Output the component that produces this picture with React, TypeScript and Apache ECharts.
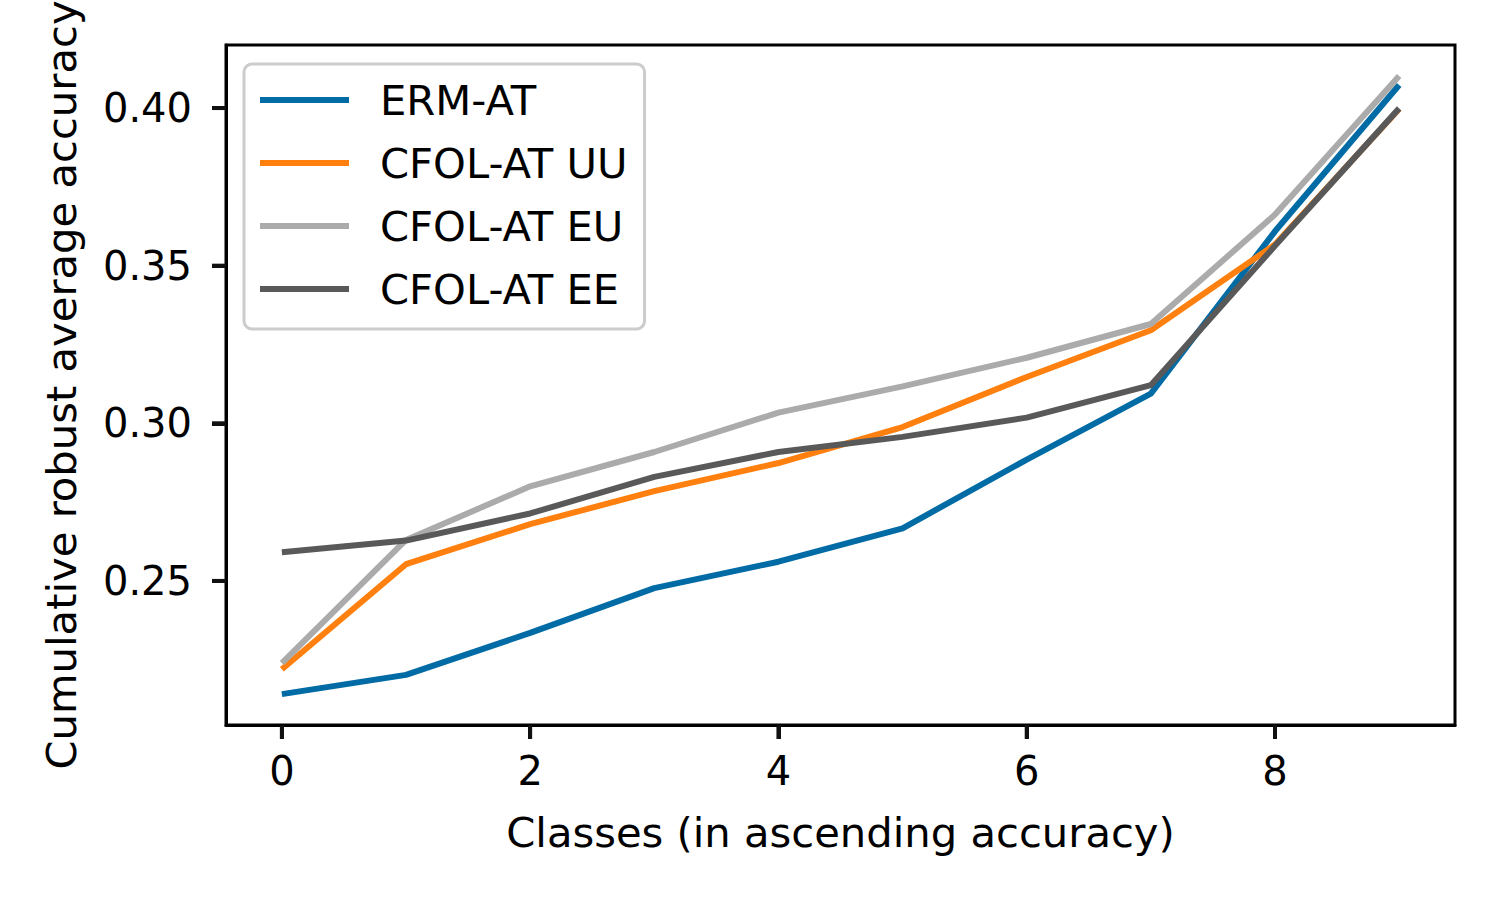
import React, { useEffect, useRef } from "react";
import * as echarts from "echarts";

const classes = [0, 1, 2, 3, 4, 5, 6, 7, 8, 9];
const ermAT = [0.2141, 0.2202, 0.2335, 0.2477, 0.2561, 0.2667, 0.2885, 0.3094, 0.3609, 0.4073];
const cfolUU = [0.2220, 0.2553, 0.2680, 0.2785, 0.2874, 0.2988, 0.3147, 0.3295, 0.3567, 0.3997];
const cfolEU = [0.2239, 0.2630, 0.2800, 0.2909, 0.3034, 0.3117, 0.3208, 0.3315, 0.3662, 0.4102];
const cfolEE = [0.2591, 0.2628, 0.2714, 0.2830, 0.2909, 0.2957, 0.3018, 0.3121, 0.3563, 0.3999];
const seriesNames = ["ERM-AT", "CFOL-AT UU", "CFOL-AT EU", "CFOL-AT EE"];
const seriesColors = ["#006BA4", "#FF800E", "#ABABAB", "#595959"];
const xTicks = [0, 2, 4, 6, 8];
const yTicks = [0.25, 0.3, 0.35, 0.4];

const X_MIN = -0.45;
const X_MAX = 9.45;
const Y_MIN = 0.2043;
const Y_MAX = 0.42;

const FONT = "DejaVu Sans";
const TICK_COLOR = "#111111";

export default function App() {
  const ref = useRef<HTMLDivElement>(null);
  useEffect(() => {
    if (!ref.current) return;
    const chart = echarts.init(ref.current, undefined, { renderer: "svg" });
    const all = [ermAT, cfolUU, cfolEU, cfolEE];
    const lineSeries = all.map((vals, i) => ({
      name: seriesNames[i],
      type: "line",
      symbol: "none",
      color: seriesColors[i],
      lineStyle: { color: seriesColors[i], width: 6 },
      data: classes.map((c, j) => [c, vals[j]]),
    }));
    chart.setOption({
      animation: false,
      backgroundColor: "#ffffff",
      textStyle: { fontFamily: FONT },
      tooltip: { show: false },
      grid: {
        left: 226,
        top: 45,
        width: 1229,
        height: 680,
        show: true,
        borderColor: "#000000",
        borderWidth: 3,
        backgroundColor: "transparent",
        containLabel: false,
        outerBoundsMode: "none",
      },
      legend: {
        orient: "vertical",
        left: 244,
        top: 64,
        padding: [15, 17, 19, 16],
        itemGap: 21,
        itemWidth: 89,
        itemHeight: 6,
        icon: "rect",
        backgroundColor: "#ffffff",
        borderColor: "#cccccc",
        borderWidth: 3,
        borderRadius: 8,
        data: seriesNames,
        textStyle: {
          fontFamily: FONT,
          fontSize: 41.7,
          color: "#000000",
          lineHeight: 41,
          padding: [0, 0, 0, 26],
        },
      },
      xAxis: {
        type: "value",
        min: X_MIN,
        max: X_MAX,
        name: "Classes (in ascending accuracy)",
        nameLocation: "middle",
        nameGap: 86,
        nameTextStyle: { fontFamily: FONT, fontSize: 41.7, color: "#000000" },
        axisLine: { show: true, onZero: false, lineStyle: { color: "#000000", width: 3 } },
        splitLine: { show: false },
        axisTick: {
          show: true,
          length: 14,
          customValues: xTicks,
          lineStyle: { color: TICK_COLOR, width: 4 },
        },
        axisLabel: {
          fontFamily: FONT,
          fontSize: 40,
          color: "#000000",
          margin: 26,
          customValues: xTicks,
          formatter: (v: number) => String(v),
        },
      },
      yAxis: {
        type: "value",
        min: Y_MIN,
        max: Y_MAX,
        name: "Cumulative robust average accuracy",
        nameLocation: "middle",
        nameRotate: 90,
        nameGap: 144,
        nameTextStyle: { fontFamily: FONT, fontSize: 41.7, color: "#000000" },
        axisLine: { show: true, onZero: false, lineStyle: { color: "#000000", width: 3 } },
        splitLine: { show: false },
        axisTick: {
          show: true,
          length: 14,
          customValues: yTicks,
          lineStyle: { color: TICK_COLOR, width: 4 },
        },
        axisLabel: {
          fontFamily: FONT,
          fontSize: 40,
          color: "#000000",
          margin: 34,
          customValues: yTicks,
          formatter: (v: number) => v.toFixed(2),
        },
      },
      series: lineSeries,
    });

    // Tick marks placed through the chart's own scales (backup for axisTick)
    const tickEls: any[] = [];
    xTicks.forEach((t) => {
      const p = chart.convertToPixel({ gridIndex: 0 }, [t, Y_MIN]) as number[];
      if (!p) return;
      tickEls.push({
        type: "line",
        shape: { x1: p[0], y1: p[1], x2: p[0], y2: p[1] + 14 },
        style: { stroke: TICK_COLOR, lineWidth: 4 },
      });
    });
    yTicks.forEach((t) => {
      const p = chart.convertToPixel({ gridIndex: 0 }, [X_MIN, t]) as number[];
      if (!p) return;
      tickEls.push({
        type: "line",
        shape: { x1: p[0] - 14, y1: p[1], x2: p[0], y2: p[1] },
        style: { stroke: TICK_COLOR, lineWidth: 4 },
      });
    });
    chart.setOption({ graphic: tickEls });

    return () => chart.dispose();
  }, []);
  return (
    <div
      ref={ref}
      style={{ position: "absolute", left: 0, top: 0, width: 1500, height: 900 }}
    />
  );
}
